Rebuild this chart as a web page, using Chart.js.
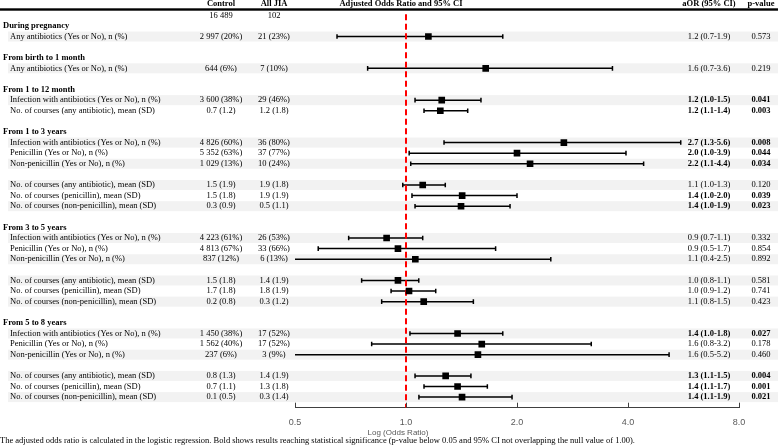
<!DOCTYPE html>
<html>
<head>
<meta charset="utf-8">
<script src="https://cdn.jsdelivr.net/npm/chart.js@4.4.1/dist/chart.umd.min.js"></script>
<style>
html,body{margin:0;padding:0;background:#fff;}
#wrap{width:778px;height:446px;position:relative;}
</style>
</head>
<body>
<div id="wrap"><canvas id="c"></canvas></div>
<script>
// ---------- data ----------
const headerCols = ["Control", "All JIA", "Adjusted Odds Ratio and 95% CI", "aOR (95% CI)", "p-value"];
const totals = ["16 489", "102"];
const groupLabels = ["During pregnancy", "From birth to 1 month", "From 1 to 12 month", "From 1 to 3 years", "From 3 to 5 years", "From 5 to 8 years"];
const groupRows = [1, 4, 7, 11, 20, 29];

const itemLabels = [
  "Any antibiotics (Yes or No), n (%)",
  "Any antibiotics (Yes or No), n (%)",
  "Infection with antibiotics (Yes or No), n (%)",
  "No. of courses (any antibiotic), mean (SD)",
  "Infection with antibiotics (Yes or No), n (%)",
  "Penicillin (Yes or No), n (%)",
  "Non-penicillin (Yes or No), n (%)",
  "No. of courses (any antibiotic), mean (SD)",
  "No. of courses (penicillin), mean (SD)",
  "No. of courses (non-penicillin), mean (SD)",
  "Infection with antibiotics (Yes or No), n (%)",
  "Penicillin (Yes or No), n (%)",
  "Non-penicillin (Yes or No), n (%)",
  "No. of courses (any antibiotic), mean (SD)",
  "No. of courses (penicillin), mean (SD)",
  "No. of courses (non-penicillin), mean (SD)",
  "Infection with antibiotics (Yes or No), n (%)",
  "Penicillin (Yes or No), n (%)",
  "Non-penicillin (Yes or No), n (%)",
  "No. of courses (any antibiotic), mean (SD)",
  "No. of courses (penicillin), mean (SD)",
  "No. of courses (non-penicillin), mean (SD)"
];
const itemRows = [2, 5, 8, 9, 12, 13, 14, 16, 17, 18, 21, 22, 23, 25, 26, 27, 30, 31, 32, 34, 35, 36];
const shadedRows = [2, 5, 8, 12, 14, 16, 18, 21, 23, 25, 27, 30, 32, 34, 36];

const controlVals = ["2 997 (20%)", "644 (6%)", "3 600 (38%)", "0.7 (1.2)", "4 826 (60%)", "5 352 (63%)", "1 029 (13%)", "1.5 (1.9)", "1.5 (1.8)", "0.3 (0.9)", "4 223 (61%)", "4 813 (67%)", "837 (12%)", "1.5 (1.8)", "1.7 (1.8)", "0.2 (0.8)", "1 450 (38%)", "1 562 (40%)", "237 (6%)", "0.8 (1.3)", "0.7 (1.1)", "0.1 (0.5)"];
const jiaVals = ["21 (23%)", "7 (10%)", "29 (46%)", "1.2 (1.8)", "36 (80%)", "37 (77%)", "10 (24%)", "1.9 (1.8)", "1.9 (1.9)", "0.5 (1.1)", "26 (53%)", "33 (66%)", "6 (13%)", "1.4 (1.9)", "1.8 (1.9)", "0.3 (1.2)", "17 (52%)", "17 (52%)", "3 (9%)", "1.4 (1.9)", "1.3 (1.8)", "0.3 (1.4)"];
const aorText = ["1.2 (0.7-1.9)", "1.6 (0.7-3.6)", "1.2 (1.0-1.5)", "1.2 (1.1-1.4)", "2.7 (1.3-5.6)", "2.0 (1.0-3.9)", "2.2 (1.1-4.4)", "1.1 (1.0-1.3)", "1.4 (1.0-2.0)", "1.4 (1.0-1.9)", "0.9 (0.7-1.1)", "0.9 (0.5-1.7)", "1.1 (0.4-2.5)", "1.0 (0.8-1.1)", "1.0 (0.9-1.2)", "1.1 (0.8-1.5)", "1.4 (1.0-1.8)", "1.6 (0.8-3.2)", "1.6 (0.5-5.2)", "1.3 (1.1-1.5)", "1.4 (1.1-1.7)", "1.4 (1.1-1.9)"];
const pValues = ["0.573", "0.219", "0.041", "0.003", "0.008", "0.044", "0.034", "0.120", "0.039", "0.023", "0.332", "0.854", "0.892", "0.581", "0.741", "0.423", "0.027", "0.178", "0.460", "0.004", "0.001", "0.021"];
const significant = [false, false, true, true, true, true, true, false, true, true, false, false, false, false, false, false, true, false, false, true, true, true];

// plotted odds ratios (estimated from the figure)
const orPoint = [1.15, 1.645, 1.25, 1.239, 2.68, 2.0, 2.17, 1.11, 1.42, 1.41, 0.886, 0.951, 1.06, 0.951, 1.019, 1.117, 1.38, 1.605, 1.567, 1.281, 1.38, 1.419];
const orLow   = [0.65, 0.787, 1.058, 1.119, 1.268, 1.02, 1.03, 0.98, 1.038, 1.058, 0.699, 0.578, 0.4, 0.758, 0.911, 0.859, 1.025, 0.807, 0.45, 1.058, 1.119, 1.084];
const orHigh  = [1.83, 3.63, 1.597, 1.47, 5.56, 3.95, 4.41, 1.278, 2.0, 1.915, 1.11, 1.75, 2.47, 1.083, 1.204, 1.523, 1.83, 3.18, 5.17, 1.50, 1.662, 1.939];

const xTicks = [0.5, 1, 2, 4, 8];
const nullValue = 1;
const axisTitle = "Log (Odds Ratio)";
const footnote = "The adjusted odds ratio is calculated in the logistic regression. Bold shows results reaching statistical significance (p-value below 0.05 and 95% CI not overlapping the null value of 1.00).";

// ---------- styling ----------
const SERIF = "'Liberation Serif', 'Times New Roman', serif";
const SANS = "'Liberation Sans', 'Noto Sans', sans-serif";
const FS = 8.5;
const COL = {group: 3, item: 10, control: 221, jia: 274, forest: 401, aor: 709, p: 761};

const tablePlugin = {
  id: 'table',
  beforeDatasetsDraw(chart) {
    const ctx = chart.ctx, y = chart.scales.y, x = chart.scales.x;
    const rowH = Math.abs(y.getPixelForValue(1) - y.getPixelForValue(0));
    ctx.save();
    // shaded bands
    ctx.fillStyle = '#f2f2f2';
    shadedRows.forEach(r => {
      const cy = y.getPixelForValue(r);
      ctx.fillRect(8, cy - rowH / 2 + 0.3, 778 - 8, rowH - 0.6);
    });
    // header
    ctx.fillStyle = '#000';
    ctx.textBaseline = 'middle';
    ctx.font = `bold ${FS}px ${SERIF}`;
    ctx.textAlign = 'center';
    const hy = 4;
    [COL.control, COL.jia, COL.forest, COL.aor, COL.p].forEach((cx, i) => ctx.fillText(headerCols[i], cx, hy));
    ctx.fillRect(0, 8.3, 778, 2.4);
    ctx.font = `${FS}px ${SERIF}`;
    const y0 = y.getPixelForValue(0);
    ctx.fillText(totals[0], COL.control, y0);
    ctx.fillText(totals[1], COL.jia, y0);
    // group labels
    ctx.textAlign = 'left';
    ctx.font = `bold ${FS}px ${SERIF}`;
    groupLabels.forEach((g, i) => ctx.fillText(g, COL.group, y.getPixelForValue(groupRows[i])));
    // items
    itemLabels.forEach((lab, i) => {
      const cy = y.getPixelForValue(itemRows[i]);
      ctx.font = `${FS}px ${SERIF}`;
      ctx.textAlign = 'left';
      ctx.fillText(lab, COL.item, cy);
      ctx.textAlign = 'center';
      ctx.fillText(controlVals[i], COL.control, cy);
      ctx.fillText(jiaVals[i], COL.jia, cy);
      ctx.font = `${significant[i] ? 'bold ' : ''}${FS}px ${SERIF}`;
      ctx.fillText(aorText[i], COL.aor, cy);
      ctx.fillText(pValues[i], COL.p, cy);
    });
    // error bars
    ctx.strokeStyle = '#000';
    ctx.lineWidth = 1.5;
    const xmin = x.min, xmax = x.max;
    itemRows.forEach((r, i) => {
      const cy = y.getPixelForValue(r);
      const lo = Math.max(orLow[i], xmin), hi = Math.min(orHigh[i], xmax);
      const px1 = x.getPixelForValue(lo), px2 = x.getPixelForValue(hi);
      ctx.beginPath();
      ctx.moveTo(px1, cy); ctx.lineTo(px2, cy);
      if (orLow[i] >= xmin) { ctx.moveTo(px1, cy - 2.3); ctx.lineTo(px1, cy + 2.3); }
      if (orHigh[i] <= xmax) { ctx.moveTo(px2, cy - 2.3); ctx.lineTo(px2, cy + 2.3); }
      ctx.stroke();
    });
    ctx.restore();
  },
  afterDraw(chart) {
    const ctx = chart.ctx, x = chart.scales.x, a = chart.chartArea;
    ctx.save();
    // inward tick marks
    ctx.strokeStyle = '#404040';
    ctx.lineWidth = 1;
    ctx.beginPath();
    xTicks.forEach(v => {
      const px = Math.round(x.getPixelForValue(v)) + 0.5;
      ctx.moveTo(px, a.bottom - 5); ctx.lineTo(px, a.bottom);
    });
    ctx.stroke();
    ctx.fillStyle = '#595959';
    ctx.font = `8px ${SANS}`;
    ctx.textAlign = 'center';
    ctx.textBaseline = 'middle';
    ctx.fillText(axisTitle, 398, 432.5);
    ctx.fillStyle = '#000';
    ctx.font = `${FS}px ${SERIF}`;
    ctx.textAlign = 'left';
    ctx.fillText(footnote, 0, 440.5);
    ctx.restore();
  }
};

const points = itemRows.map((r, i) => ({x: orPoint[i], y: r}));

new Chart(document.getElementById('c'), {
  type: 'scatter',
  data: {
    datasets: [
      {
        data: points,
        pointStyle: 'rect',
        pointRadius: 4.7,
        pointHoverRadius: 4.7,
        backgroundColor: '#000',
        borderColor: '#000',
        borderWidth: 0
      },
      {
        type: 'line',
        data: [{x: nullValue, y: -0.1}, {x: nullValue, y: 37}],
        borderColor: '#ff0000',
        borderWidth: 2,
        borderDash: [6, 3.5],
        pointRadius: 0,
        fill: false
      }
    ]
  },
  options: {
    responsive: true,
    maintainAspectRatio: false,
    animation: false,
    events: [],
    layout: {padding: {left: 295, right: 39, top: 3.36, bottom: 0}},
    plugins: {legend: {display: false}, tooltip: {enabled: false}},
    scales: {
      x: {
        type: 'logarithmic',
        min: 0.5,
        max: 8,
        afterBuildTicks(axis) { axis.ticks = xTicks.map(v => ({value: v})); },
        afterFit(axis) { axis.height = 38.3; },
        grid: {display: false, drawTicks: false},
        border: {display: true, color: '#404040', width: 1},
        ticks: {
          color: '#595959',
          font: {family: SANS, size: 9},
          padding: 9,
          autoSkip: false,
          maxRotation: 0,
          callback: v => Number(v).toFixed(1)
        }
      },
      y: {
        type: 'linear',
        display: false,
        min: -1,
        max: 37,
        reverse: true
      }
    }
  },
  plugins: [tablePlugin]
});
</script>
</body>
</html>
